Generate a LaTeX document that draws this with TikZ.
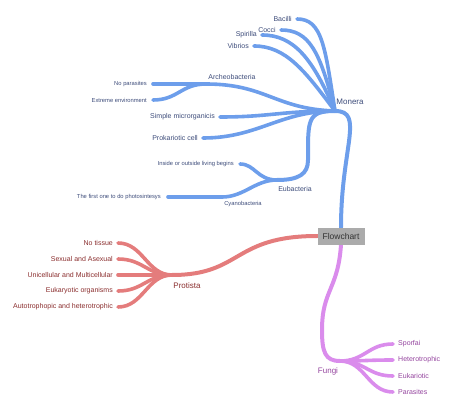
\documentclass[tikz,border=0pt]{standalone}
\usepackage{fontspec}
\setmainfont{Liberation Sans}
\usetikzlibrary{positioning,backgrounds}
\definecolor{monline}{HTML}{6D9EEB}
\definecolor{montext}{HTML}{3D4C7A}
\definecolor{proline}{HTML}{E47C7C}
\definecolor{protext}{HTML}{8A2E2E}
\definecolor{funline}{HTML}{DA8CEC}
\definecolor{funtext}{HTML}{94449E}
\definecolor{boxgray}{HTML}{ABABAB}
\begin{document}
\begin{tikzpicture}[x=1pt,y=-1pt,
  br/.style={line width=3.6pt,line cap=round},
  mainbr/.style={line width=4pt,line cap=round},
  txt/.style={inner sep=0pt,font=\fontsize{7}{8}\selectfont},
  sm/.style={inner sep=0pt,font=\fontsize{5.8}{7}\selectfont},
  big/.style={inner sep=0pt,font=\fontsize{8}{9}\selectfont}]
\useasboundingbox (0,0) rectangle (460,414);
% root
\node[fill=boxgray,text=black!80,minimum width=47pt,minimum height=17pt,inner sep=0pt,
  font=\fontsize{8.5}{10}\selectfont] (fc) at (341,236) {Flowchart};
% junctions
\coordinate (mon) at (335,111);
\coordinate (arc) at (206,84);
\coordinate (eub) at (277,180);
\coordinate (cya) at (222,197);
\coordinate (prt) at (172,275);
\coordinate (fun) at (340,361);
% ends of Monera
\coordinate (bac) at (297,19);
\coordinate (coc) at (281,30);
\coordinate (spi) at (262,35);
\coordinate (vib) at (254,46);
\coordinate (nop) at (153,84);
\coordinate (ext) at (153,100);
\coordinate (sim) at (220,117);
\coordinate (prk) at (203,138);
\coordinate (ins) at (240,164);
\coordinate (pho) at (168,197);
% ends of Protista and Fungi
\foreach \n/\y in {1/243,2/259,3/275,4/291,5/307} \coordinate (p\n) at (118,\y);
\foreach \n/\y in {1/344,2/360,3/376,4/392} \coordinate (f\n) at (393,\y);

\begin{scope}[on background layer]
 \begin{scope}[draw=monline]
  \draw[mainbr] (fc.north) .. controls +(0,-80) and +(30,0) .. (mon);
  \draw[mainbr] (mon) .. controls +(-28,0) and +(0,-40) .. (308,160) .. controls +(0,14) and +(22,0) .. (eub);
  \draw[br] (mon) .. controls +(-10,-65) and +(25,0) .. (bac);
  \draw[br] (mon) .. controls +(-15,-60) and +(28,0) .. (coc);
  \draw[br] (mon) .. controls +(-22,-52) and +(32,0) .. (spi);
  \draw[br] (mon) .. controls +(-30,-40) and +(32,0) .. (vib);
  \draw[br] (mon) .. controls +(-60,-2) and +(60,0) .. (arc);
  \draw[br] (mon) .. controls +(-55,0) and +(50,0) .. (sim);
  \draw[br] (mon) .. controls +(-55,0) and +(55,0) .. (prk);
  \draw[br] (arc) .. controls +(-20,0) and +(20,0) .. (nop);
  \draw[br] (arc) .. controls +(-25,0) and +(25,0) .. (ext);
  \draw[br] (eub) .. controls +(-20,0) and +(15,0) .. (ins);
  \draw[br] (eub) .. controls +(-22,0) and +(22,0) .. (cya);
  \draw[br] (cya) -- (pho);
 \end{scope}
 \draw[mainbr,draw=proline] (fc.west) .. controls +(-85,0) and +(70,0) .. (prt);
 \foreach \n in {1,...,5} \draw[br,draw=proline] (prt) .. controls +(-25,0) and +(25,0) .. (p\n);
 \draw[mainbr,draw=funline] (fc.south) .. controls +(-3,45) and +(0,-40) .. (322,330)
   .. controls +(0,22) and +(-15,0) .. (fun);
 \foreach \n in {1,...,4} \draw[br,draw=funline] (fun) .. controls +(25,0) and +(-25,0) .. (f\n);
\end{scope}

% labels
\node[big,text=montext] (monl) at (350,102) {Monera};
\node[txt,text=montext] (arcl) at (232,77) {Archeobacteria};
\node[txt,text=montext] (eubl) at (295,189) {Eubacteria};
\node[sm,text=montext] (cyal) at (243,204) {Cyanobacteria};
\node[txt,text=montext,left=5pt of bac] (bacl) {Bacilli};
\node[txt,text=montext,left=5pt of coc] (cocl) {Cocci};
\node[txt,text=montext,left=5pt of spi] (spil) {Spirilla};
\node[txt,text=montext,left=5pt of vib] (vibl) {Vibrios};
\node[sm,text=montext,left=6pt of nop] (nopl) {No parasites};
\node[sm,text=montext,left=6pt of ext] (extl) {Extreme environment};
\node[txt,text=montext,left=5pt of sim] (siml) {Simple microrganicis};
\node[txt,text=montext,left=5pt of prk] (prkl) {Prokariotic cell};
\node[sm,text=montext,left=6pt of ins] (insl) {Inside or outside living begins};
\node[sm,text=montext,left=7pt of pho] (phol) {The first one to do photosintesys};
\node[big,text=protext] (prtl) at (187,286) {Protista};
\node[txt,text=protext,left=5pt of p1] {No tissue};
\node[txt,text=protext,left=5pt of p2] {Sexual and Asexual};
\node[txt,text=protext,left=5pt of p3] {Unicellular and Multicellular};
\node[txt,text=protext,left=5pt of p4] {Eukaryotic organisms};
\node[txt,text=protext,left=5pt of p5] {Autotrophopic and heterotrophic};
\node[big,text=funtext] (funl) at (328,371) {Fungi};
\node[txt,text=funtext,right=5pt of f1] {Sporfai};
\node[txt,text=funtext,right=5pt of f2] {Heterotrophic};
\node[txt,text=funtext,right=5pt of f3] {Eukariotic};
\node[txt,text=funtext,right=5pt of f4] {Parasites};
\end{tikzpicture}
\end{document}
